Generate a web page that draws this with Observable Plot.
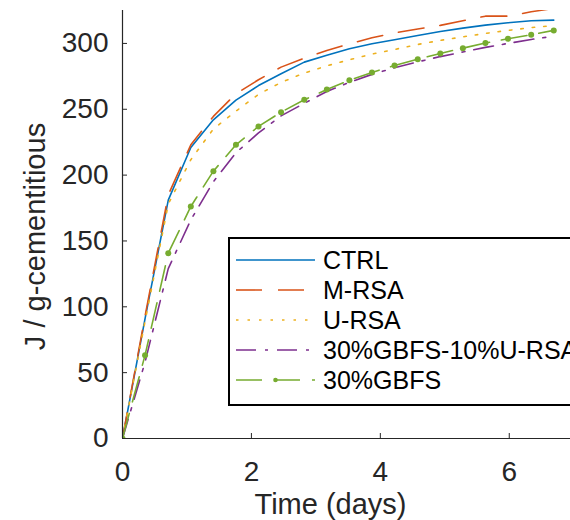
<!DOCTYPE html>
<html>
<head>
<meta charset="utf-8">
<script src="https://cdn.jsdelivr.net/npm/d3@7"></script>
<script src="https://cdn.jsdelivr.net/npm/@observablehq/plot@0.6"></script>
<style>
  html, body { margin: 0; padding: 0; background: #fff; overflow: hidden; }
  #wrap { position: relative; width: 570px; height: 520px; overflow: hidden; font-family: "Liberation Sans", Arial, Helvetica, sans-serif; }
  #legend { position: absolute; left: 228px; top: 237px; width: 420px; height: 165px; border: 2px solid #000; background: #fff; }
  .row { position: absolute; left: 0; height: 30px; width: 100%; }
  .row svg { position: absolute; left: 6px; top: 0; }
  .row span { position: absolute; left: 93px; top: 0; line-height: 30px; font-size: 25px; color: #000; white-space: nowrap; }
</style>
</head>
<body>
<div id="wrap"><div id="chart"></div><div id="legend"></div></div>
<script>
// ---- data ----
const days   = [0, 0.35, 0.71, 1.06, 1.41, 1.76, 2.11, 2.46, 2.82, 3.17, 3.52, 3.87, 4.22, 4.58, 4.93, 5.28, 5.63, 5.98, 6.34, 6.69];
const ctrl   = [0, 91, 181, 221, 242, 257, 268, 277, 285.8, 291, 296, 299.8, 302.8, 306, 309, 311.6, 313.9, 315.7, 317.2, 317.7];
const mRsa   = [0, 93, 185, 223, 244.6, 261.8, 272.4, 282, 288.8, 294.7, 299.7, 304.3, 308, 311, 313.7, 317.2, 320.7, 320.7, 324, 326.5];
const uRsa   = [0, 89, 178, 211.7, 235, 248.6, 261.3, 270.4, 277.5, 283, 287.6, 291.9, 295.4, 299.2, 302.3, 305, 307.6, 309.9, 312, 313.5];
const gbfsU  = [0, 58, 129, 166, 195, 217, 232, 245, 254.5, 263.5, 270.5, 276.5, 281.5, 286, 290, 293.5, 297, 300, 303, 305.5];
const gbfs   = [0, 63.3, 140.7, 176.2, 203, 223, 237, 247.8, 257.2, 265, 272, 278, 283.3, 288, 292.4, 296.4, 300.3, 303.5, 306.6, 309.9];
const seriesNames = ["CTRL", "M-RSA", "U-RSA", "30%GBFS-10%U-RSA", "30%GBFS"];
const seriesValues = [ctrl, mRsa, uRsa, gbfsU, gbfs];
const xTicks = [0, 2, 4, 6];
const yTicks = [0, 50, 100, 150, 200, 250, 300];
const xLabel = "Time (days)";
const yLabel = "J / g-cementitious";

// ---- styles ----
const styles = {
  "CTRL":             {stroke: "#0072BD", dash: null},
  "M-RSA":            {stroke: "#D95319", dash: "26,16"},
  "U-RSA":            {stroke: "#EDB120", dash: "2.5,9"},
  "30%GBFS-10%U-RSA": {stroke: "#7E2F8E", dash: "20,9,3,9"},
  "30%GBFS":          {stroke: "#77AC30", dash: "26,12", marker: true}
};
const axisColor = "#262626";
const font = "Liberation Sans, Arial, Helvetica, sans-serif";
const xDomain = [0, 6.95], yDomain = [0, 325];
const W = 570, H = 520, mL = 122, mR = 0, mT = 10, mB = 82;
// inward tick length of ~5px expressed in data units
const tickX = 5 * (xDomain[1] - xDomain[0]) / (W - mL - mR);
const tickY = 5 * (yDomain[1] - yDomain[0]) / (H - mT - mB);

const table = seriesNames.map((name, s) => days.map((d, i) => ({name, t: d, v: seriesValues[s][i]})));

const lineMarks = table.map((rows, s) => {
  const st = styles[seriesNames[s]];
  return Plot.line(rows, {x: "t", y: "v", stroke: st.stroke, strokeWidth: 1.6, strokeDasharray: st.dash, clip: true});
});

const chart = Plot.plot({
  width: W, height: H,
  marginLeft: mL, marginRight: mR, marginTop: mT, marginBottom: mB,
  x: {domain: xDomain},
  y: {domain: yDomain},
  style: {fontFamily: font, color: axisColor, background: "transparent", overflow: "visible"},
  marks: [
    ...lineMarks,
    Plot.dot(table[4], {x: "t", y: "v", r: 3, fill: styles["30%GBFS"].stroke, stroke: null, clip: true}),
    Plot.ruleY([0], {stroke: axisColor, strokeWidth: 1.2}),
    Plot.ruleX([0], {stroke: axisColor, strokeWidth: 1.2}),
    Plot.ruleX(xTicks.filter(d => d > 0), {x: d => d, y1: 0, y2: tickY, stroke: axisColor, strokeWidth: 1}),
    Plot.ruleY(yTicks.filter(d => d > 0), {y: d => d, x1: 0, x2: tickX, stroke: axisColor, strokeWidth: 1}),
    Plot.axisX(xTicks, {tickSize: 0, tickPadding: 23, fontSize: 28, label: null, fill: axisColor}),
    Plot.axisY(yTicks, {tickSize: 0, tickPadding: 14, fontSize: 28, label: null, fill: axisColor}),
    Plot.text([yLabel], {frameAnchor: "left", textAnchor: "middle", lineAnchor: "middle", rotate: -90, dx: -87, dy: 12, fontSize: 29, fill: axisColor}),
    Plot.text([xLabel], {frameAnchor: "bottom", textAnchor: "middle", lineAnchor: "middle", dx: -16, dy: 66, fontSize: 29, fill: axisColor})
  ]
});
document.getElementById("chart").appendChild(chart);

// ---- legend ----
const legend = document.getElementById("legend");
seriesNames.forEach((name, i) => {
  const st = styles[name];
  const row = document.createElement("div");
  row.className = "row";
  row.style.top = (6 + i * 30) + "px";
  const svg = d3.create("svg").attr("width", 80).attr("height", 30);
  svg.append("line").attr("x1", 0).attr("x2", 79).attr("y1", 15).attr("y2", 15)
    .attr("stroke", st.stroke).attr("stroke-width", 1.6)
    .attr("stroke-dasharray", st.dash);
  if (st.marker) svg.append("circle").attr("cx", 39.5).attr("cy", 15).attr("r", 2.3).attr("fill", st.stroke);
  row.appendChild(svg.node());
  const span = document.createElement("span");
  span.textContent = name;
  row.appendChild(span);
  legend.appendChild(row);
});
</script>
</body>
</html>
